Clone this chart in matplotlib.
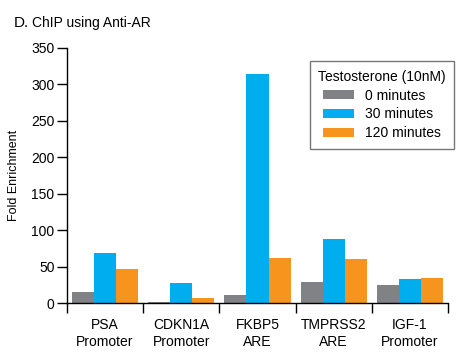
import numpy as np
import matplotlib.pyplot as plt
from matplotlib import font_manager

# Daten
categories = ['PSA\nPromoter', 'CDKN1A\nPromoter', 'FKBP5\nARE', 'TMPRSS2\nARE', 'IGF-1\nPromoter']
series_names = ['0 minutes', '30 minutes', '120 minutes']
min0 = [15, 2, 11, 29, 25]
min30 = [69, 28, 314, 88, 33]
min120 = [47, 7, 62, 61, 35]
colors = ['#808285', '#00AEEF', '#F7941D']

names = {f.name for f in font_manager.fontManager.ttflist}
fam = 'Liberation Sans Narrow' if 'Liberation Sans Narrow' in names else 'Liberation Sans'
plt.rcParams['font.family'] = [fam, 'DejaVu Sans']

fig = plt.figure(figsize=(4.64, 3.6), dpi=100)
ax = fig.add_axes([0.1444, 0.1583, 0.8211, 0.7084])

x = np.arange(len(categories))
w = 0.29
for i, vals in enumerate([min0, min30, min120]):
    ax.bar(x + (i - 1) * w, vals, width=w, color=colors[i], label=series_names[i])

ax.set_xlim(-0.5, len(categories) - 0.5)
ax.set_ylim(0, 350)
ax.set_yticks(range(0, 351, 50))
ax.tick_params(axis='y', direction='out', length=7, width=1, labelsize=10, pad=2)
ax.set_xticks(x)
ax.set_xticklabels(categories, fontsize=10, linespacing=1.25)
ax.tick_params(axis='x', length=0, pad=11)
ax.set_xticks(np.arange(-0.5, len(categories)), minor=True)
ax.tick_params(axis='x', which='minor', direction='out', length=7, width=1)

for s in ['top', 'right']:
    ax.spines[s].set_visible(False)
for s in ['left', 'bottom']:
    ax.spines[s].set_linewidth(1)

ax.set_ylabel('Fold Enrichment', fontsize=9, labelpad=8)

fig.text(0.03, 0.935, 'D.', fontsize=11, ha='left', va='center')
fig.text(0.07, 0.935, 'ChIP using Anti-AR', fontsize=10, ha='left', va='center')

leg = ax.legend(title='Testosterone (10nM)', loc='upper right', bbox_to_anchor=(1.035, 0.975),
                fontsize=10, title_fontsize=10, frameon=True, fancybox=False,
                handlelength=2.2, handleheight=0.6, borderpad=0.6, labelspacing=0.35)
leg.get_frame().set_edgecolor('#555555')
leg.get_frame().set_linewidth(1)

plt.savefig('out.png', dpi=100)
